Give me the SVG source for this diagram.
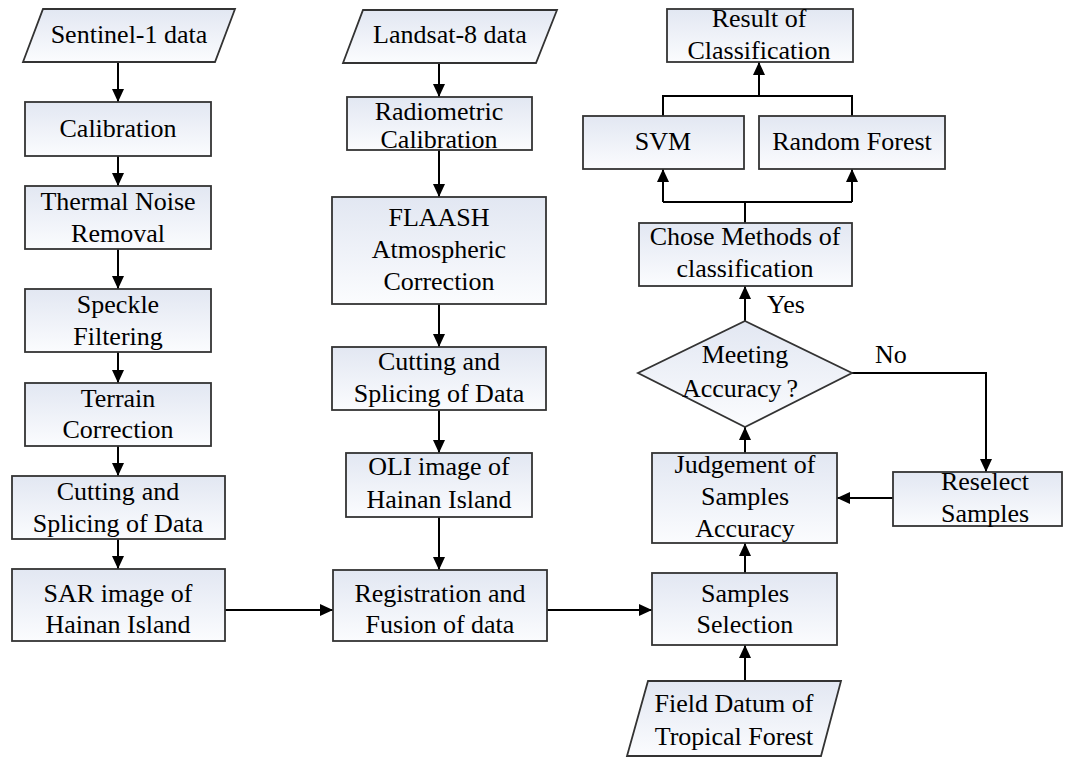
<svg xmlns="http://www.w3.org/2000/svg" width="1070" height="760" viewBox="0 0 1070 760">
<defs>
<linearGradient id="g" x1="0" y1="0" x2="0" y2="1">
<stop offset="0" stop-color="#e2e7f2"/>
<stop offset="1" stop-color="#fbfcfe"/>
</linearGradient>
<marker id="ah" markerWidth="13" markerHeight="12" refX="13" refY="6" orient="auto" markerUnits="userSpaceOnUse">
<path d="M0,0 L13,6 L0,12 Z" fill="#000"/>
</marker>
</defs>
<rect width="1070" height="760" fill="#fff"/>

<g id="connectors" fill="none" stroke="#000" stroke-width="2">
<line marker-end="url(#ah)" x1="118" y1="62" x2="118" y2="102"/>
<line marker-end="url(#ah)" x1="118" y1="156" x2="118" y2="186"/>
<line marker-end="url(#ah)" x1="118" y1="249" x2="118" y2="289"/>
<line marker-end="url(#ah)" x1="118" y1="352" x2="118" y2="383"/>
<line marker-end="url(#ah)" x1="118" y1="446" x2="118" y2="476"/>
<line marker-end="url(#ah)" x1="118" y1="539" x2="118" y2="569"/>
<line marker-end="url(#ah)" x1="225" y1="610" x2="333" y2="610"/>
<line marker-end="url(#ah)" x1="439" y1="63" x2="439" y2="97"/>
<line marker-end="url(#ah)" x1="439" y1="150" x2="439" y2="197"/>
<line marker-end="url(#ah)" x1="439" y1="304" x2="439" y2="347"/>
<line marker-end="url(#ah)" x1="439" y1="410" x2="439" y2="453"/>
<line marker-end="url(#ah)" x1="439" y1="517" x2="439" y2="570"/>
<line marker-end="url(#ah)" x1="547" y1="610" x2="652" y2="610"/>
<line marker-end="url(#ah)" x1="745" y1="681" x2="745" y2="645"/>
<line marker-end="url(#ah)" x1="745" y1="573" x2="745" y2="543"/>
<line marker-end="url(#ah)" x1="745" y1="453" x2="745" y2="427"/>
<line marker-end="url(#ah)" x1="745" y1="321" x2="745" y2="286"/>
<polyline marker-end="url(#ah)" points="852,373 986,373 986,472"/>
<line marker-end="url(#ah)" x1="893" y1="498" x2="837" y2="498"/>
<polyline points="745,223 745,202"/>
<polyline points="663,202 852,202"/>
<line marker-end="url(#ah)" x1="663" y1="202" x2="663" y2="169"/>
<line marker-end="url(#ah)" x1="852" y1="202" x2="852" y2="169"/>
<polyline points="663,116 663,96 852,96 852,116"/>
<line marker-end="url(#ah)" x1="759" y1="96" x2="759" y2="62"/>
<text x="767" y="313" font-family="Liberation Serif" font-size="26" fill="#000" stroke="none">Yes</text>
<text x="875" y="363" font-family="Liberation Serif" font-size="26" fill="#000" stroke="none">No</text>
</g>

<g id="nodes" fill="url(#g)" stroke="#333" stroke-width="1.8">
<g id="sentinel"><polygon points="43,9 235,9 215,62 23,62"/><text x="129" y="43" font-family="Liberation Serif" font-size="26" fill="#000" stroke="none" text-anchor="middle">Sentinel-1 data</text></g>
<g id="calibration"><rect x="25" y="102" width="186" height="54"/><text x="118" y="137" font-family="Liberation Serif" font-size="26" fill="#000" stroke="none" text-anchor="middle">Calibration</text></g>
<g id="thermal"><rect x="25" y="186" width="186" height="63"/><text x="118" y="210" font-family="Liberation Serif" font-size="26" fill="#000" stroke="none" text-anchor="middle">Thermal Noise</text><text x="118" y="242" font-family="Liberation Serif" font-size="26" fill="#000" stroke="none" text-anchor="middle">Removal</text></g>
<g id="speckle"><rect x="25" y="289" width="186" height="63"/><text x="118" y="313" font-family="Liberation Serif" font-size="26" fill="#000" stroke="none" text-anchor="middle">Speckle</text><text x="118" y="345" font-family="Liberation Serif" font-size="26" fill="#000" stroke="none" text-anchor="middle">Filtering</text></g>
<g id="terrain"><rect x="25" y="383" width="186" height="63"/><text x="118" y="407" font-family="Liberation Serif" font-size="26" fill="#000" stroke="none" text-anchor="middle">Terrain</text><text x="118" y="438" font-family="Liberation Serif" font-size="26" fill="#000" stroke="none" text-anchor="middle">Correction</text></g>
<g id="cut1"><rect x="12" y="476" width="213" height="63"/><text x="118" y="500" font-family="Liberation Serif" font-size="26" fill="#000" stroke="none" text-anchor="middle">Cutting<tspan dx="7">and</tspan></text><text x="118" y="532" font-family="Liberation Serif" font-size="26" fill="#000" stroke="none" text-anchor="middle">Splicing of Data</text></g>
<g id="sar"><rect x="12" y="569" width="213" height="72"/><text x="118" y="602" font-family="Liberation Serif" font-size="26" fill="#000" stroke="none" text-anchor="middle">SAR image of</text><text x="118" y="633" font-family="Liberation Serif" font-size="26" fill="#000" stroke="none" text-anchor="middle">Hainan Island</text></g>

<g id="landsat"><polygon points="363,10 557,10 536,63 343,63"/><text x="450" y="43" font-family="Liberation Serif" font-size="26" fill="#000" stroke="none" text-anchor="middle">Landsat-8 data</text></g>
<g id="radiometric"><rect x="347" y="97" width="185" height="53"/><text x="439" y="120" font-family="Liberation Serif" font-size="26" fill="#000" stroke="none" text-anchor="middle">Radiometric</text><text x="439" y="148" font-family="Liberation Serif" font-size="26" fill="#000" stroke="none" text-anchor="middle">Calibration</text></g>
<g id="flaash"><rect x="332" y="197" width="214" height="107"/><text x="439" y="226" font-family="Liberation Serif" font-size="26" fill="#000" stroke="none" text-anchor="middle">FLAASH</text><text x="439" y="258" font-family="Liberation Serif" font-size="26" fill="#000" stroke="none" text-anchor="middle">Atmospheric</text><text x="439" y="290" font-family="Liberation Serif" font-size="26" fill="#000" stroke="none" text-anchor="middle">Correction</text></g>
<g id="cut2"><rect x="332" y="347" width="214" height="63"/><text x="439" y="370" font-family="Liberation Serif" font-size="26" fill="#000" stroke="none" text-anchor="middle">Cutting and</text><text x="439" y="402" font-family="Liberation Serif" font-size="26" fill="#000" stroke="none" text-anchor="middle">Splicing of Data</text></g>
<g id="oli"><rect x="346" y="453" width="186" height="64"/><text x="439" y="475" font-family="Liberation Serif" font-size="26" fill="#000" stroke="none" text-anchor="middle">OLI image of</text><text x="439" y="508" font-family="Liberation Serif" font-size="26" fill="#000" stroke="none" text-anchor="middle">Hainan Island</text></g>
<g id="registration"><rect x="333" y="570" width="214" height="71"/><text x="440" y="602" font-family="Liberation Serif" font-size="26" fill="#000" stroke="none" text-anchor="middle">Registration and</text><text x="440" y="633" font-family="Liberation Serif" font-size="26" fill="#000" stroke="none" text-anchor="middle">Fusion of data</text></g>

<g id="field"><polygon points="648,681 841,681 821,756 627,756"/><text x="734" y="712" font-family="Liberation Serif" font-size="26" fill="#000" stroke="none" text-anchor="middle">Field Datum of</text><text x="734" y="745" font-family="Liberation Serif" font-size="26" fill="#000" stroke="none" text-anchor="middle">Tropical Forest</text></g>
<g id="samples"><rect x="652" y="573" width="185" height="72"/><text x="745" y="602" font-family="Liberation Serif" font-size="26" fill="#000" stroke="none" text-anchor="middle">Samples</text><text x="745" y="633" font-family="Liberation Serif" font-size="26" fill="#000" stroke="none" text-anchor="middle">Selection</text></g>
<g id="judgement"><rect x="652" y="453" width="185" height="90"/><text x="745" y="473" font-family="Liberation Serif" font-size="26" fill="#000" stroke="none" text-anchor="middle">Judgement of</text><text x="745" y="505" font-family="Liberation Serif" font-size="26" fill="#000" stroke="none" text-anchor="middle">Samples</text><text x="745" y="537" font-family="Liberation Serif" font-size="26" fill="#000" stroke="none" text-anchor="middle">Accuracy</text></g>
<g id="reselect"><rect x="893" y="472" width="169" height="54"/><text x="985" y="490" font-family="Liberation Serif" font-size="26" fill="#000" stroke="none" text-anchor="middle">Reselect</text><text x="985" y="522" font-family="Liberation Serif" font-size="26" fill="#000" stroke="none" text-anchor="middle">Samples</text></g>
<g id="decision"><polygon points="745,321 852,373 745,427 638,373"/><text x="745" y="363" font-family="Liberation Serif" font-size="26" fill="#000" stroke="none" text-anchor="middle">Meeting</text><text x="740" y="397" font-family="Liberation Serif" font-size="26" fill="#000" stroke="none" text-anchor="middle">Accuracy<tspan dx="5">?</tspan></text></g>
<g id="chose"><rect x="639" y="223" width="213" height="63"/><text x="745" y="245" font-family="Liberation Serif" font-size="26" fill="#000" stroke="none" text-anchor="middle">Chose Methods of</text><text x="745" y="277" font-family="Liberation Serif" font-size="26" fill="#000" stroke="none" text-anchor="middle">classification</text></g>
<g id="svm"><rect x="583" y="116" width="161" height="53"/><text x="663" y="150" font-family="Liberation Serif" font-size="26" fill="#000" stroke="none" text-anchor="middle">SVM</text></g>
<g id="rf"><rect x="759" y="116" width="186" height="53"/><text x="852" y="150" font-family="Liberation Serif" font-size="26" fill="#000" stroke="none" text-anchor="middle">Random Forest</text></g>
<g id="result"><rect x="667" y="9" width="186" height="53"/><text x="759" y="27" font-family="Liberation Serif" font-size="26" fill="#000" stroke="none" text-anchor="middle">Result of</text><text x="759" y="59" font-family="Liberation Serif" font-size="26" fill="#000" stroke="none" text-anchor="middle">Classification</text></g>
</g>
</svg>
